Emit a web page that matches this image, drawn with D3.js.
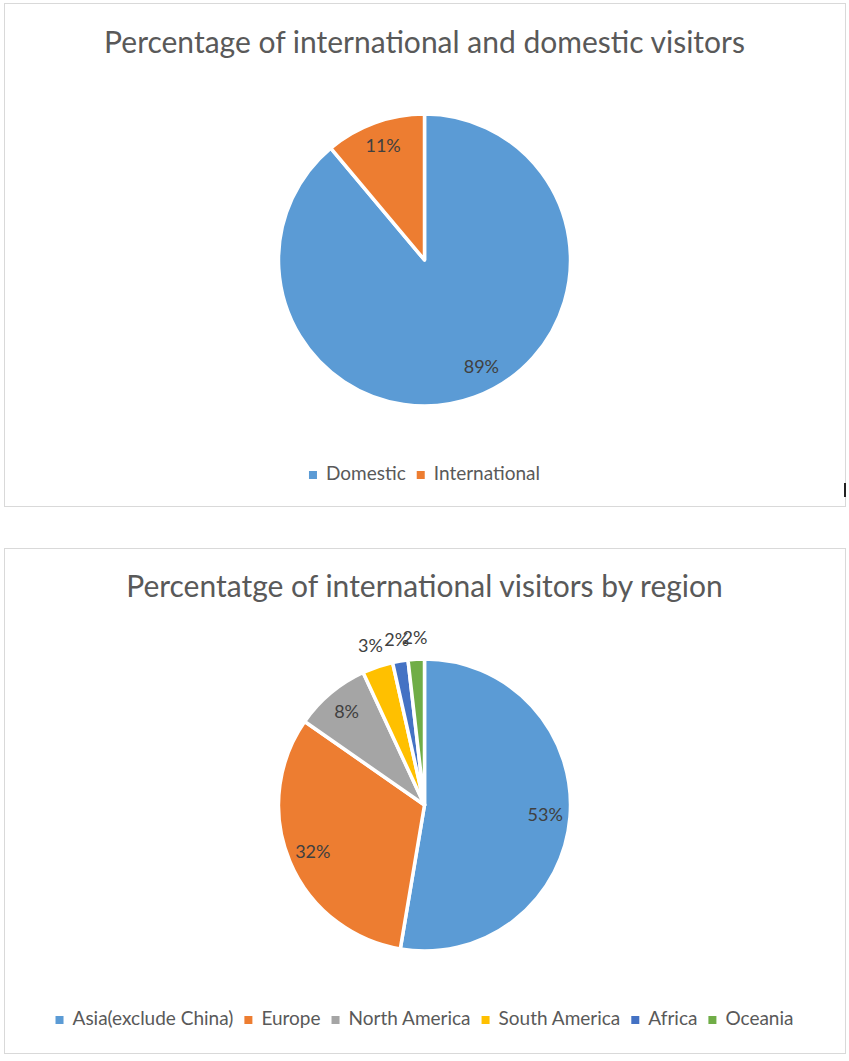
<!DOCTYPE html>
<html><head><meta charset="utf-8">
<script src="https://cdn.jsdelivr.net/npm/d3@7/dist/d3.min.js"></script>
<style>body{margin:0;background:#fff}svg{display:block}</style>
</head><body>
<svg id="c" width="849" height="1061"></svg>
<script>
const topCategories = ["Domestic", "International"];
const topValues = [88.9, 11.1];
const topColors = ["#5B9BD5", "#ED7D31"];
const topTitle = "Percentage of international and domestic visitors";

const regionCategories = ["Asia(exclude China)", "Europe", "North America", "South America", "Africa", "Oceania"];
const regionValues = [52.6, 32.0, 8.4, 3.4, 1.7, 1.8];
const regionColors = ["#5B9BD5", "#ED7D31", "#A5A5A5", "#FFC000", "#4472C4", "#70AD47"];
const regionTitle = "Percentatge of international visitors by region";

const svg = d3.select("#c");
const FONT = "Lato, 'Open Sans', sans-serif";

function drawChart(g, box, title, cats, vals, colors, opt) {
  g.append("rect").attr("x", box.x + 0.5).attr("y", box.y + 0.5)
    .attr("width", box.w).attr("height", box.h)
    .attr("fill", "#fff").attr("stroke", "#d9d9d9").attr("stroke-width", 1);
  g.append("text").attr("x", box.x + box.w / 2).attr("y", box.y + opt.titleY)
    .attr("text-anchor", "middle").attr("font-family", FONT)
    .attr("font-size", opt.titleSize).attr("fill", "#595959").text(title);

  const cx = box.x + box.w / 2, cy = box.y + opt.pieCY, R = opt.radius;
  const total = d3.sum(vals);
  const pie = d3.pie().sort(null).value(d => d.v);
  const data = pie(cats.map((c, i) => ({c, v: vals[i], col: colors[i]})));
  const arc = d3.arc().innerRadius(0).outerRadius(R);
  const pg = g.append("g").attr("transform", `translate(${cx},${cy})`);
  pg.selectAll("path").data(data).join("path")
    .attr("d", arc).attr("fill", d => d.data.col)
    .attr("stroke", "#fff").attr("stroke-width", 3.5).attr("stroke-linejoin", "round");
  pg.selectAll("text").data(data).join("text")
    .attr("transform", d => {
      const share = d.data.v / total;
      const r = share < 0.05 ? R * 1.15 : R * 0.83;
      const a = (d.startAngle + d.endAngle) / 2 + (share > 0.8 ? -0.14 : 0);
      return `translate(${r * Math.sin(a)},${-r * Math.cos(a)})`;
    })
    .attr("text-anchor", "middle").attr("dy", "0.35em")
    .attr("font-family", FONT).attr("font-size", 18).attr("fill", "#404040")
    .text(d => Math.round(d.data.v / total * 100) + "%");

  // legend
  const lg = g.append("g");
  let x = 0;
  cats.forEach((c, i) => {
    const it = lg.append("g").attr("transform", `translate(${x},0)`);
    it.append("rect").attr("x", 0).attr("y", -9).attr("width", 8).attr("height", 8).attr("fill", colors[i]);
    const t = it.append("text").attr("x", 17).attr("y", 0).attr("font-family", FONT)
      .attr("font-size", opt.legendSize).attr("fill", "#595959").text(c);
    const w = t.node().getComputedTextLength();
    x += 17 + w + 11;
  });
  const lw = x - 11;
  lg.attr("transform", `translate(${box.x + box.w / 2 - lw / 2},${box.y + opt.legendY})`);
}

drawChart(svg.append("g"), {x: 4, y: 3, w: 841, h: 503}, topTitle, topCategories, topValues, topColors,
  {titleY: 50, titleSize: 30, pieCY: 257, radius: 146, legendY: 477, legendSize: 19});
svg.append("rect").attr("x", 844).attr("y", 483).attr("width", 2).attr("height", 14).attr("fill", "#222");
drawChart(svg.append("g"), {x: 4, y: 548, w: 841, h: 505}, regionTitle, regionCategories, regionValues, regionColors,
  {titleY: 49, titleSize: 30, pieCY: 257, radius: 146, legendY: 477, legendSize: 19});
</script>
</body></html>
